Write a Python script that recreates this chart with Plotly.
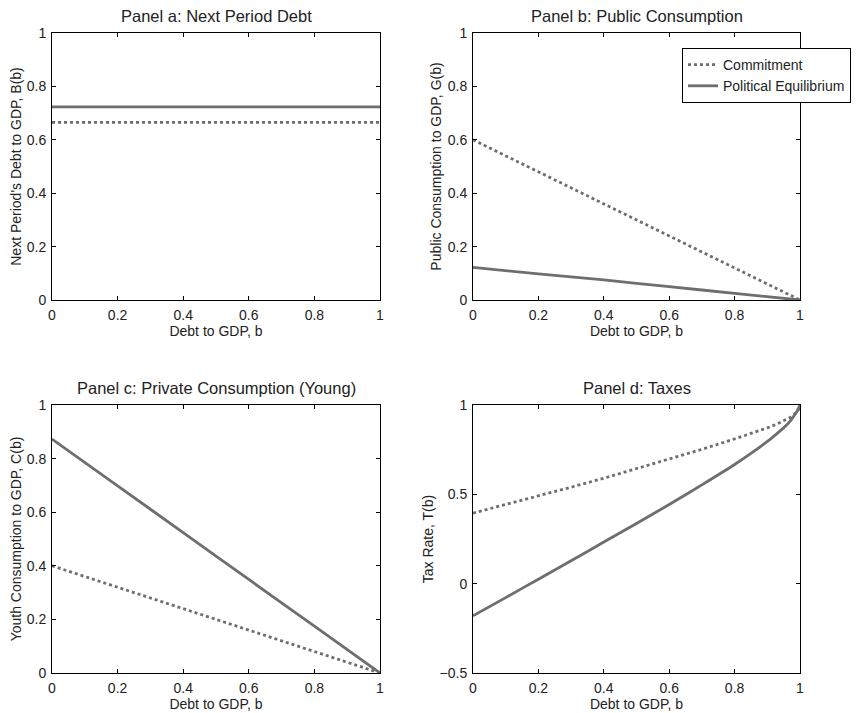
import plotly.graph_objects as go

# ---- data ----
b_coarse = [0, 0.2, 0.4, 0.6, 0.8, 1.0]
b_fine = [0, 0.1, 0.2, 0.3, 0.4, 0.5, 0.6, 0.7, 0.8, 0.85, 0.9, 0.925, 0.95, 0.97, 0.98, 0.99, 1.0]

# Panel a: next period debt
debt_commit = [0.665, 0.665, 0.665, 0.665, 0.665, 0.665]
debt_polit = [0.723, 0.723, 0.723, 0.723, 0.723, 0.723]

# Panel b: public consumption
pub_commit = [0.60, 0.48, 0.36, 0.24, 0.12, 0.0]
pub_polit = [0.1225, 0.0975, 0.075, 0.05, 0.025, 0.0]

# Panel c: private consumption (young)
young_commit = [0.40, 0.32, 0.24, 0.16, 0.08, 0.0]
young_polit = [0.873, 0.698, 0.524, 0.349, 0.175, 0.0]

# Panel d: taxes
tax_commit = [0.395, 0.442, 0.49, 0.54, 0.59, 0.643, 0.697, 0.752, 0.81, 0.84, 0.872,
              0.89, 0.91, 0.93, 0.945, 0.96, 0.985]
tax_polit = [-0.18, -0.078, 0.025, 0.128, 0.233, 0.337, 0.443, 0.553, 0.667, 0.729, 0.796,
             0.833, 0.872, 0.91, 0.935, 0.962, 1.0]

x_ticks = [0, 0.2, 0.4, 0.6, 0.8, 1]
y_ticks_unit = [0, 0.2, 0.4, 0.6, 0.8, 1]
y_ticks_tax = [-0.5, 0, 0.5, 1]

titles = ["Panel a: Next Period Debt", "Panel b: Public Consumption",
          "Panel c: Private Consumption (Young)", "Panel d: Taxes"]
y_titles = ["Next Period's Debt to GDP, B(b)", "Public Consumption to GDP, G(b)",
            "Youth Consumption to GDP, C(b)", "Tax Rate, T(b)"]
x_title = "Debt to GDP, b"
series_names = ["Commitment", "Political Equilibrium"]

# ---- style ----
LINE_COLOR = "#6e6e6e"
FONT = "Liberation Sans, Arial, sans-serif"
TXT = "#222222"

# the page body adds an 8px offset; work in figure coordinates
OFF = 8
W, H = 862, 713
L, T = 52 - OFF, 33 - OFF
RIGHT, BOTTOM = 800 - OFF, 673 - OFF
R, B = W - RIGHT, H - BOTTOM
pw = RIGHT - L
ph = BOTTOM - T
xd = [[0, (380 - OFF - L) / pw], [(473 - OFF - L) / pw, 1]]
yd = [[(BOTTOM - (300 - OFF)) / ph, 1], [0, (BOTTOM - (405 - OFF)) / ph]]

fig = go.Figure()

panels = [
    (b_coarse, debt_commit, debt_polit, [0, 1], y_ticks_unit),
    (b_coarse, pub_commit, pub_polit, [0, 1], y_ticks_unit),
    (b_coarse, young_commit, young_polit, [0, 1], y_ticks_unit),
    (b_fine, tax_commit, tax_polit, [-0.5, 1], y_ticks_tax),
]

for i, (bx, c, p, yr, yt) in enumerate(panels):
    n = i + 1
    xa = "x" if n == 1 else f"x{n}"
    ya = "y" if n == 1 else f"y{n}"
    fig.add_trace(go.Scatter(x=bx, y=c, mode="lines", name=series_names[0],
                             line=dict(color=LINE_COLOR, width=2.8, dash="dot"),
                             xaxis=xa, yaxis=ya, showlegend=(n == 2), cliponaxis=False))
    fig.add_trace(go.Scatter(x=bx, y=p, mode="lines", name=series_names[1],
                             line=dict(color=LINE_COLOR, width=2.8, shape="spline", smoothing=0.6),
                             xaxis=xa, yaxis=ya, showlegend=(n == 2), cliponaxis=False))
    col = i % 2
    row = i // 2
    axis_common = dict(showline=True, linecolor="black", linewidth=1, mirror="allticks",
                       ticks="inside", ticklen=4, tickcolor="black", showgrid=False,
                       zeroline=False, automargin=False, ticklabelstandoff=2,
                       tickfont=dict(family=FONT, size=14, color=TXT))
    xkey = "xaxis" if n == 1 else f"xaxis{n}"
    ykey = "yaxis" if n == 1 else f"yaxis{n}"
    fig.layout[xkey] = dict(domain=xd[col], range=[0, 1], tickvals=x_ticks, anchor=ya,
                            title=dict(text=x_title, font=dict(family=FONT, size=14, color=TXT), standoff=1),
                            **axis_common)
    fig.layout[ykey] = dict(domain=yd[row], range=yr, tickvals=yt, anchor=xa,
                            title=dict(text=y_titles[i], font=dict(family=FONT, size=14, color=TXT), standoff=2),
                            **axis_common)
    # panel title
    xc = (xd[col][0] + xd[col][1]) / 2
    fig.add_annotation(text=titles[i], x=xc, y=yd[row][1], xref="paper", yref="paper",
                       xanchor="center", yanchor="bottom", yshift=6, showarrow=False,
                       font=dict(family=FONT, size=16.5, color=TXT))

fig.update_layout(
    width=W, height=H,
    margin=dict(l=L, r=R, t=T, b=B),
    paper_bgcolor="white", plot_bgcolor="white",
    legend=dict(x=(682 - OFF - L) / pw, y=1 - (48 - OFF - T) / ph, xanchor="left", yanchor="top",
                xref="paper", yref="paper",
                bgcolor="white", bordercolor="black", borderwidth=1,
                font=dict(family=FONT, size=14, color=TXT),
                tracegroupgap=0, itemwidth=30),
    showlegend=True,
)

fig.write_html("out.html")
